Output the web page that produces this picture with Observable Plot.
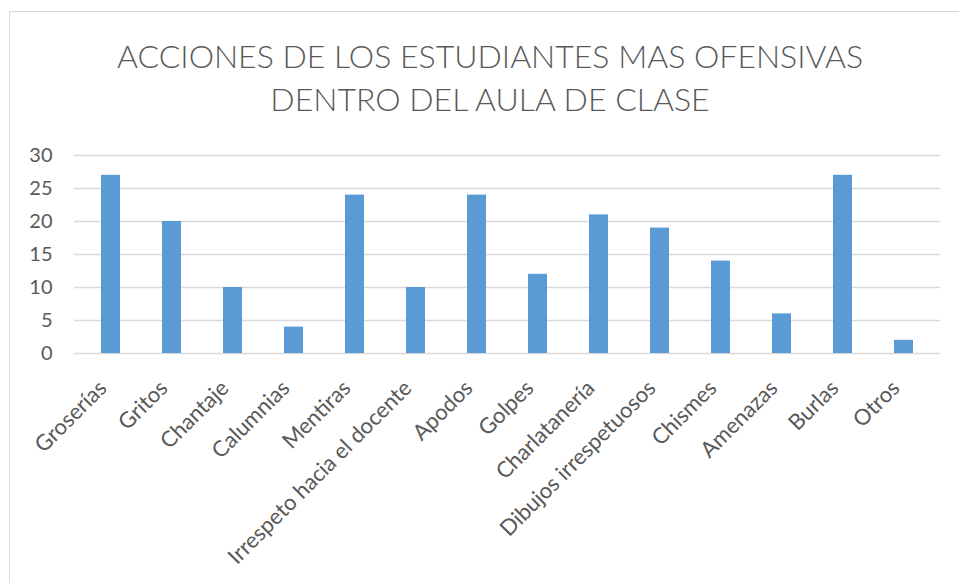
<!DOCTYPE html>
<html>
<head>
<meta charset="utf-8">
<script src="https://cdn.jsdelivr.net/npm/d3@7"></script>
<script src="https://cdn.jsdelivr.net/npm/@observablehq/plot@0.6"></script>
<style>
  html, body { margin: 0; padding: 0; background: #fff; overflow: hidden; }
  #frame { position: absolute; left: 9px; top: 11px; width: 962px; height: 600px; border: 1px solid #d9d9d9; box-sizing: border-box; }
  #title { position: absolute; left: 9px; top: 34px; width: 962px; text-align: center; font-family: Lato, "Open Sans", sans-serif; font-weight: 300; font-size: 32px; line-height: 43px; color: #595959; }
  #chart { position: absolute; left: 0; top: 130px; }
</style>
</head>
<body>
<div id="frame"></div>
<div id="title">ACCIONES DE LOS ESTUDIANTES MAS OFENSIVAS<br>DENTRO DEL AULA DE CLASE</div>
<div id="chart"></div>
<script>
const categories = ["Groserías", "Gritos", "Chantaje", "Calumnias", "Mentiras", "Irrespeto hacia el docente", "Apodos", "Golpes", "Charlatanería", "Dibujos irrespetuosos", "Chismes", "Amenazas", "Burlas", "Otros"];
const values = [27, 20, 10, 4, 24, 10, 24, 12, 21, 19, 14, 6, 27, 2];
const yTicks = [0, 5, 10, 15, 20, 25, 30];

const data = categories.map((c, i) => ({category: c, value: values[i]}));

const chart = Plot.plot({
  width: 959,
  height: 453,
  marginTop: 25,
  marginBottom: 230,
  marginLeft: 74,
  marginRight: 19,
  style: {fontFamily: "Lato, 'Open Sans', sans-serif", color: "#595959", background: "transparent"},
  x: {domain: categories, paddingInner: 0.69, paddingOuter: 0.345, align: 0.5, axis: null},
  y: {domain: [0, 30], ticks: yTicks, axis: null},
  marks: [
    Plot.gridY(yTicks, {stroke: "#d9d9d9", strokeOpacity: 1, strokeWidth: 1.3}),
    Plot.barY(data, {x: "category", y: "value", fill: "#5b9bd5"}),
    Plot.text(yTicks, {x: null, y: d => d, frameAnchor: "left", textAnchor: "end", dx: -22, text: d => String(d), fontSize: 20, fill: "#595959"}),
    Plot.text(data, {x: "category", frameAnchor: "bottom", text: "category", rotate: -45, textAnchor: "end", lineAnchor: "middle", dx: -8, dy: 31, fontSize: 22, fill: "#595959"})
  ]
});
document.getElementById("chart").appendChild(chart);
</script>
</body>
</html>
